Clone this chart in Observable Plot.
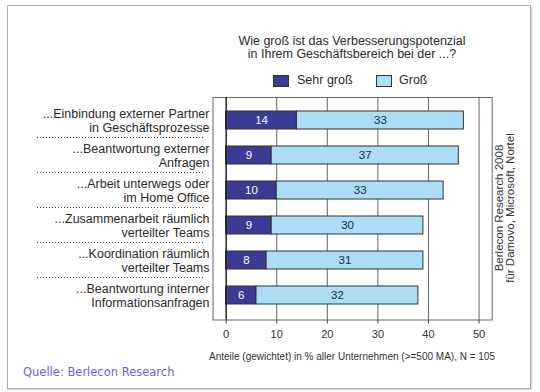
<!DOCTYPE html>
<html>
<head>
<meta charset="utf-8">
<script src="https://cdn.jsdelivr.net/npm/d3@7"></script>
<script src="https://cdn.jsdelivr.net/npm/@observablehq/plot@0.6"></script>
<style>
  html, body { margin: 0; padding: 0; background: #fff; }
  #wrap { position: relative; width: 540px; height: 392px; font-family: "Liberation Sans", Arial, sans-serif; color: #333; }
  #wrap svg { position: absolute; left: 0; top: 0; }
  .abs { position: absolute; white-space: nowrap; }
  #border { position: absolute; left: 7px; top: 5px; width: 522px; height: 382px; border: 1px solid #aaa; box-shadow: 1px 1px 2px #ccc; }
  #title { left: 352px; top: 35px; transform: translateX(-50%); text-align: center; font-size: 12.5px; line-height: 12.5px; color: #2a2a2a; }
  .sw { position: absolute; width: 14px; height: 10px; border: 1px solid #333; }
  .lg { position: absolute; font-size: 12.5px; top: 73px; color: #2a2a2a; }
  #xlabel { left: 352px; top: 351px; transform: translateX(-50%); font-size: 10px; }
  #source { left: 23px; top: 365px; font-family: "DejaVu Sans", Verdana, sans-serif; font-size: 11.5px; color: #7060d8; }
  #side { left: 505px; top: 208px; transform: translate(-50%, -50%) rotate(-90deg); text-align: center; font-size: 11.5px; line-height: 11px; }
</style>
</head>
<body>
<div id="wrap">
  <div id="border"></div>
</div>
<script>
const categories = [
  "...Einbindung externer Partner\nin Geschäftsprozesse",
  "...Beantwortung externer\nAnfragen",
  "...Arbeit unterwegs oder\nim Home Office",
  "...Zusammenarbeit räumlich\nverteilter Teams",
  "...Koordination räumlich\nverteilter Teams",
  "...Beantwortung interner\nInformationsanfragen"
];
const series = ["Sehr groß", "Groß"];
const sehrGross = [14, 9, 10, 9, 8, 6];
const gross = [33, 37, 33, 30, 31, 32];
const xTicks = [0, 10, 20, 30, 40, 50];
const colors = ["#3b3b93", "#acdcf6"];

const data = categories.flatMap((c, i) => [
  {cat: c, series: series[0], value: sehrGross[i]},
  {cat: c, series: series[1], value: gross[i]}
]);

const stackOpts = {x: "value", y: "cat", z: "series", text: "value"};

const plot = Plot.plot({
  width: 540,
  height: 392,
  marginLeft: 212.5,
  marginRight: 48.3,
  marginTop: 97,
  marginBottom: 72.5,
  style: {fontFamily: "'Liberation Sans', Arial, sans-serif", fontSize: "11px", color: "#333", background: "transparent", overflow: "visible"},
  x: {domain: [-2.6, 52.6], axis: null},
  y: {domain: categories, range: [100, 315], paddingInner: 0.5, paddingOuter: 0.25, axis: null},
  color: {domain: series, range: colors},
  marks: [
    Plot.frame({stroke: "#666"}),
    Plot.ruleX(xTicks.slice(1), {stroke: "#666"}),
    Plot.axisX(xTicks, {tickSize: 4, tickPadding: 6, fontSize: 11, stroke: "#444", label: null}),
    Plot.barX(data, Plot.stackX({x: "value", y: "cat", z: "series", fill: "series", stroke: "#333", strokeWidth: 1})),
    Plot.ruleX([0], {stroke: "#222", strokeWidth: 1.5}),
    Plot.text(data, Plot.filter(d => d.series === series[0], Plot.stackX({...stackOpts, fill: "white", fontSize: 11.5}))),
    Plot.text(data, Plot.filter(d => d.series === series[1], Plot.stackX({...stackOpts, fill: "#1a2a4a", fontSize: 11.5}))),
    Plot.text(categories, {y: d => d, text: d => d, frameAnchor: "left", dx: -3.5, textAnchor: "end", lineHeight: 1.15, fontSize: 12.5, fill: "#2a2a2a"})
  ]
});

const wrap = document.getElementById("wrap");
wrap.appendChild(plot);

// dotted separators between category labels
const ys = plot.scale("y");
const bw = ys.bandwidth, step = ys.step;
const sep = categories.slice(0, -1).map(c => ys.apply(c) + bw + (step - bw) / 2);
d3.select(plot).append("g")
  .selectAll("line").data(sep).join("line")
  .attr("x1", 37).attr("x2", 204)
  .attr("y1", d => d).attr("y2", d => d)
  .attr("stroke", "#444").attr("stroke-width", 1).attr("stroke-dasharray", "1,2");

function add(id, cls, html) {
  const d = document.createElement("div");
  if (id) d.id = id;
  d.className = cls;
  d.innerHTML = html;
  wrap.appendChild(d);
  return d;
}
add("title", "abs", "Wie groß ist das Verbesserungspotenzial<br>in Ihrem Geschäftsbereich bei der ...?");
const sw1 = add(null, "sw", ""); sw1.style.left = "273px"; sw1.style.top = "75px"; sw1.style.background = colors[0];
const lg1 = add(null, "lg", series[0]); lg1.style.left = "297px";
const sw2 = add(null, "sw", ""); sw2.style.left = "376px"; sw2.style.top = "75px"; sw2.style.background = colors[1];
const lg2 = add(null, "lg", series[1]); lg2.style.left = "399px";
add("xlabel", "abs", "Anteile (gewichtet) in % aller Unternehmen (&gt;=500 MA), N = 105");
add("source", "abs", "Quelle: Berlecon Research");
add("side", "abs", "Berlecon Research 2008<br>für Damovo, Microsoft, Nortel");
</script>
</body>
</html>
